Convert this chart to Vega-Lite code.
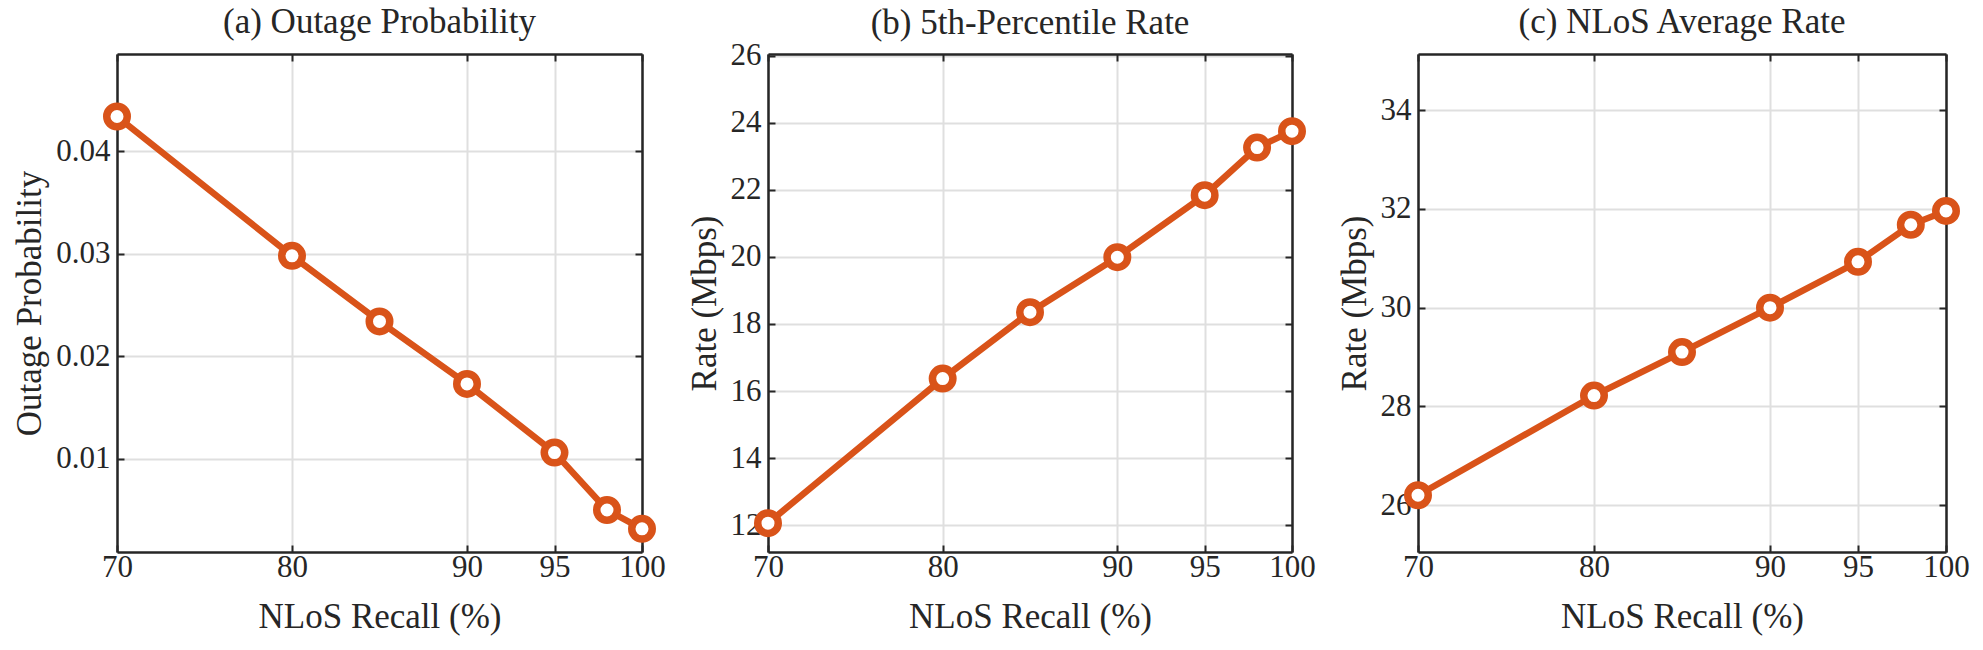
{
  "$schema": "https://vega.github.io/schema/vega-lite/v6.json",
  "background": "white",
  "padding": {"left": 12, "top": 5, "right": 10, "bottom": 5},
  "config": {
    "font": "Liberation Serif, Times New Roman, serif",
    "view": {"stroke": null},
    "axis": {
      "domain": true,
      "domainColor": "#262626",
      "domainWidth": 2.5,
      "tickColor": "#262626",
      "tickWidth": 2,
      "tickSize": -7,
      "labelFlush": false,
      "labelFont": "Liberation Serif, Times New Roman, serif",
      "labelFontSize": 31,
      "labelColor": "#262626",
      "titleFont": "Liberation Serif, Times New Roman, serif",
      "titleFontSize": 35,
      "titleFontWeight": "normal",
      "titleColor": "#262626",
      "gridColor": "#dfdfdf",
      "gridWidth": 2,
      "gridOpacity": 1
    },
    "title": {
      "font": "Liberation Serif, Times New Roman, serif",
      "fontSize": 35,
      "fontWeight": "normal",
      "color": "#262626",
      "baseline": "alphabetic",
      "offset": 13
    }
  },
  "data": {
    "values": [
      {"recall": 70, "outage": 0.0434, "rate5": 12.06, "avgRate": 26.2},
      {"recall": 80, "outage": 0.0298, "rate5": 16.37, "avgRate": 28.22},
      {"recall": 85, "outage": 0.0234, "rate5": 18.35, "avgRate": 29.1},
      {"recall": 90, "outage": 0.0173, "rate5": 19.99, "avgRate": 30.0},
      {"recall": 95, "outage": 0.0106, "rate5": 21.84, "avgRate": 30.93},
      {"recall": 98, "outage": 0.005, "rate5": 23.26, "avgRate": 31.68},
      {"recall": 100, "outage": 0.00316, "rate5": 23.75, "avgRate": 31.96}
    ]
  },
  "spacing": 126,
  "bounds": "flush",
  "hconcat": [
    {
      "width": 525,
      "height": 498,
      "title": "(a) Outage Probability",
      "layer": [
        {
          "mark": {"type": "line", "color": "#D95319", "strokeWidth": 6.5},
          "encoding": {
            "x": {"field": "recall", "type": "quantitative", "scale": {"domain": [70, 100], "nice": false},
              "axis": {"orient": "bottom", "values": [70, 80, 90, 95, 100], "title": "NLoS Recall (%)", "labelPadding": 7, "titlePadding": 17}},
            "y": {"field": "outage", "type": "quantitative", "scale": {"domain": [0.0009, 0.0495], "nice": false, "zero": false},
              "axis": {"orient": "left", "values": [0.01, 0.02, 0.03, 0.04], "format": ".2f", "title": "Outage Probability", "labelPadding": 14, "titlePadding": 8}}
          }
        },
        {
          "mark": {"type": "point", "shape": "circle", "fill": "white", "stroke": "#D95319", "strokeWidth": 7.5, "size": 420, "opacity": 1},
          "encoding": {
            "x": {"field": "recall", "type": "quantitative",
              "axis": {"orient": "top", "values": [70, 80, 90, 95, 100], "labels": false, "title": null, "grid": false}},
            "y": {"field": "outage", "type": "quantitative",
              "axis": {"orient": "right", "values": [0.01, 0.02, 0.03, 0.04], "labels": false, "title": null, "grid": false}}
          }
        }
      ],
      "resolve": {"axis": {"x": "independent", "y": "independent"}}
    },
    {
      "width": 524,
      "height": 498,
      "title": {"text": "(b) 5th-Percentile Rate", "dy": 14},
      "layer": [
        {
          "mark": {"type": "line", "color": "#D95319", "strokeWidth": 6.5},
          "encoding": {
            "x": {"field": "recall", "type": "quantitative", "scale": {"domain": [70, 100], "nice": false},
              "axis": {"orient": "bottom", "values": [70, 80, 90, 95, 100], "title": "NLoS Recall (%)", "labelPadding": 7, "titlePadding": 17}},
            "y": {"field": "rate5", "type": "quantitative", "scale": {"domain": [11.2, 26.05], "nice": false, "zero": false},
              "axis": {"orient": "left", "values": [12, 14, 16, 18, 20, 22, 24, 26], "title": "Rate (Mbps)", "labelPadding": 14, "titlePadding": 8}}
          }
        },
        {
          "mark": {"type": "point", "shape": "circle", "fill": "white", "stroke": "#D95319", "strokeWidth": 7.5, "size": 420, "opacity": 1},
          "encoding": {
            "x": {"field": "recall", "type": "quantitative",
              "axis": {"orient": "top", "values": [70, 80, 90, 95, 100], "labels": false, "title": null, "grid": false}},
            "y": {"field": "rate5", "type": "quantitative",
              "axis": {"orient": "right", "values": [12, 14, 16, 18, 20, 22, 24, 26], "labels": false, "title": null, "grid": false}}
          }
        }
      ],
      "resolve": {"axis": {"x": "independent", "y": "independent"}}
    },
    {
      "width": 528,
      "height": 498,
      "title": "(c) NLoS Average Rate",
      "layer": [
        {
          "mark": {"type": "line", "color": "#D95319", "strokeWidth": 6.5},
          "encoding": {
            "x": {"field": "recall", "type": "quantitative", "scale": {"domain": [70, 100], "nice": false},
              "axis": {"orient": "bottom", "values": [70, 80, 90, 95, 100], "title": "NLoS Recall (%)", "labelPadding": 7, "titlePadding": 17}},
            "y": {"field": "avgRate", "type": "quantitative", "scale": {"domain": [25.05, 35.14], "nice": false, "zero": false},
              "axis": {"orient": "left", "values": [26, 28, 30, 32, 34], "title": "Rate (Mbps)", "labelPadding": 14, "titlePadding": 8}}
          }
        },
        {
          "mark": {"type": "point", "shape": "circle", "fill": "white", "stroke": "#D95319", "strokeWidth": 7.5, "size": 420, "opacity": 1},
          "encoding": {
            "x": {"field": "recall", "type": "quantitative",
              "axis": {"orient": "top", "values": [70, 80, 90, 95, 100], "labels": false, "title": null, "grid": false}},
            "y": {"field": "avgRate", "type": "quantitative",
              "axis": {"orient": "right", "values": [26, 28, 30, 32, 34], "labels": false, "title": null, "grid": false}}
          }
        }
      ],
      "resolve": {"axis": {"x": "independent", "y": "independent"}}
    }
  ]
}
